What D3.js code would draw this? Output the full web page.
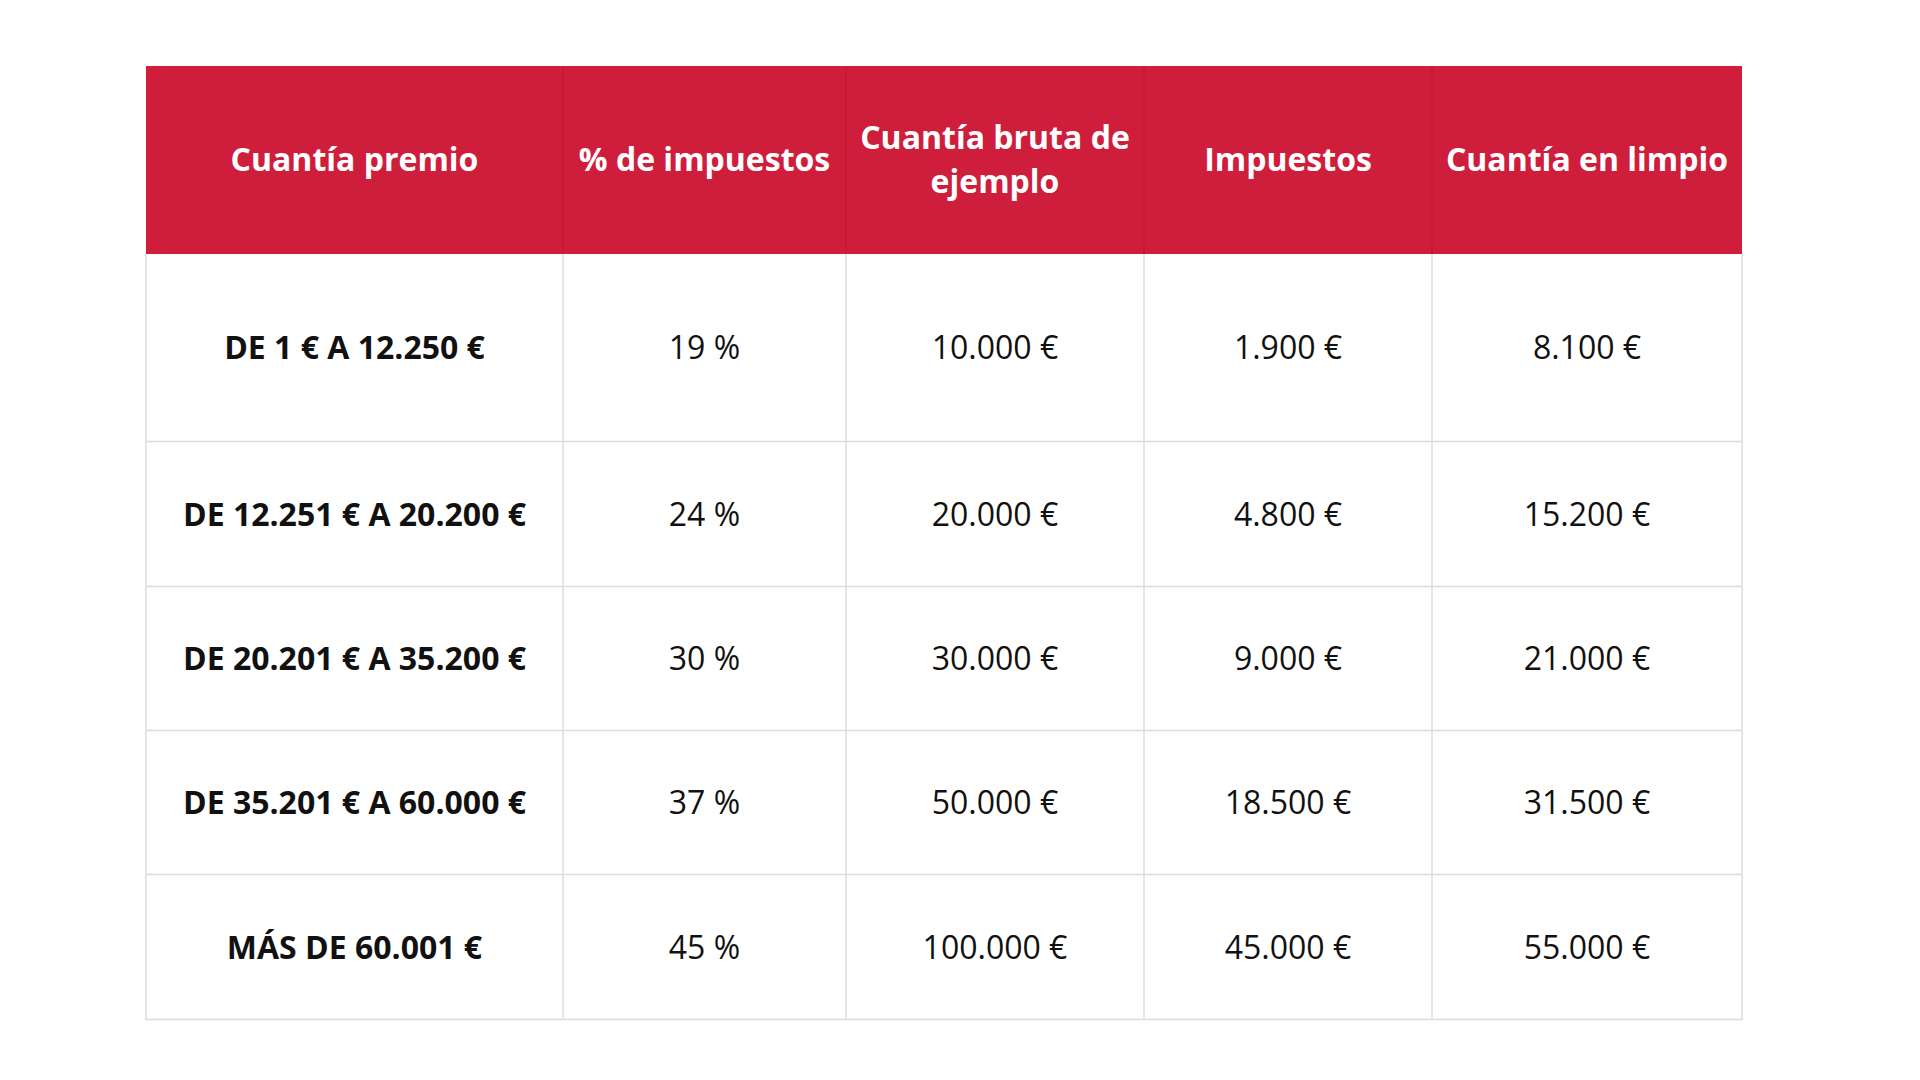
<!DOCTYPE html>
<html>
<head>
<meta charset="utf-8">
<script src="https://cdn.jsdelivr.net/npm/d3@7"></script>
<style>
  body { margin: 0; background: #fff; }
  text { font-family: "Open Sans", sans-serif; }
</style>
</head>
<body>
<script>
// Data
const headers = [["Cuantía premio"], ["% de impuestos"], ["Cuantía bruta de", "ejemplo"], ["Impuestos"], ["Cuantía en limpio"]];
const brackets = ["DE 1 € A 12.250 €", "DE 12.251 € A 20.200 €", "DE 20.201 € A 35.200 €", "DE 35.201 € A 60.000 €", "MÁS DE 60.001 €"];
const taxRates = ["19 %", "24 %", "30 %", "37 %", "45 %"];
const grossAmounts = ["10.000 €", "20.000 €", "30.000 €", "50.000 €", "100.000 €"];
const taxAmounts = ["1.900 €", "4.800 €", "9.000 €", "18.500 €", "45.000 €"];
const netAmounts = ["8.100 €", "15.200 €", "21.000 €", "31.500 €", "55.000 €"];

// Layout
const LEFT = 146, TOP = 66;
const COL_WIDTHS = [417, 283, 298, 288, 310];
const HEADER_HEIGHT = 188;
const ROW_HEIGHTS = [188, 145, 144, 144, 145];
const RED = "#cf1e3b";
const GRID = "#dcdcdc";

const colEdges = [LEFT];
COL_WIDTHS.forEach(w => colEdges.push(colEdges[colEdges.length - 1] + w));
const rowEdges = [TOP, TOP + HEADER_HEIGHT];
ROW_HEIGHTS.forEach(h => rowEdges.push(rowEdges[rowEdges.length - 1] + h));

const rows = brackets.map((b, i) => [b, taxRates[i], grossAmounts[i], taxAmounts[i], netAmounts[i]]);

const svg = d3.select("body").append("svg")
  .attr("width", 1920)
  .attr("height", 1080);

const right = colEdges[colEdges.length - 1];
const bottom = rowEdges[rowEdges.length - 1];

// Header background
svg.append("rect")
  .attr("x", LEFT).attr("y", TOP)
  .attr("width", right - LEFT).attr("height", HEADER_HEIGHT)
  .attr("fill", RED);

// Body grid lines
for (let i = 2; i < rowEdges.length; i++) {
  svg.append("line")
    .attr("x1", LEFT).attr("x2", right)
    .attr("y1", rowEdges[i] - 0.5).attr("y2", rowEdges[i] - 0.5)
    .attr("stroke", GRID).attr("stroke-width", 1.5);
}
for (let j = 0; j < colEdges.length; j++) {
  svg.append("line")
    .attr("x1", colEdges[j]).attr("x2", colEdges[j])
    .attr("y1", TOP + HEADER_HEIGHT).attr("y2", bottom)
    .attr("stroke", GRID).attr("stroke-width", 1.5);
  if (j > 0 && j < colEdges.length - 1) {
    svg.append("line")
      .attr("x1", colEdges[j]).attr("x2", colEdges[j])
      .attr("y1", TOP).attr("y2", TOP + HEADER_HEIGHT)
      .attr("stroke", "#b51a33").attr("stroke-width", 1);
  }
}

// Header text
headers.forEach((lines, j) => {
  const cx = (colEdges[j] + colEdges[j + 1]) / 2;
  const cy = TOP + HEADER_HEIGHT / 2;
  const lh = 44;
  lines.forEach((l, k) => {
    svg.append("text")
      .attr("x", cx)
      .attr("y", cy + (k - (lines.length - 1) / 2) * lh)
      .attr("dy", "0.35em")
      .attr("text-anchor", "middle")
      .attr("fill", "#fff")
      .attr("font-size", 32)
      .attr("font-weight", 700)
      .text(l);
  });
});

// Body text
rows.forEach((r, i) => {
  const cy = (rowEdges[i + 1] + rowEdges[i + 2]) / 2;
  r.forEach((v, j) => {
    svg.append("text")
      .attr("x", (colEdges[j] + colEdges[j + 1]) / 2)
      .attr("y", cy)
      .attr("dy", "0.35em")
      .attr("text-anchor", "middle")
      .attr("fill", "#111")
      .attr("font-size", 32)
      .attr("font-weight", j === 0 ? 700 : 400)
      .text(v);
  });
});
</script>
</body>
</html>
